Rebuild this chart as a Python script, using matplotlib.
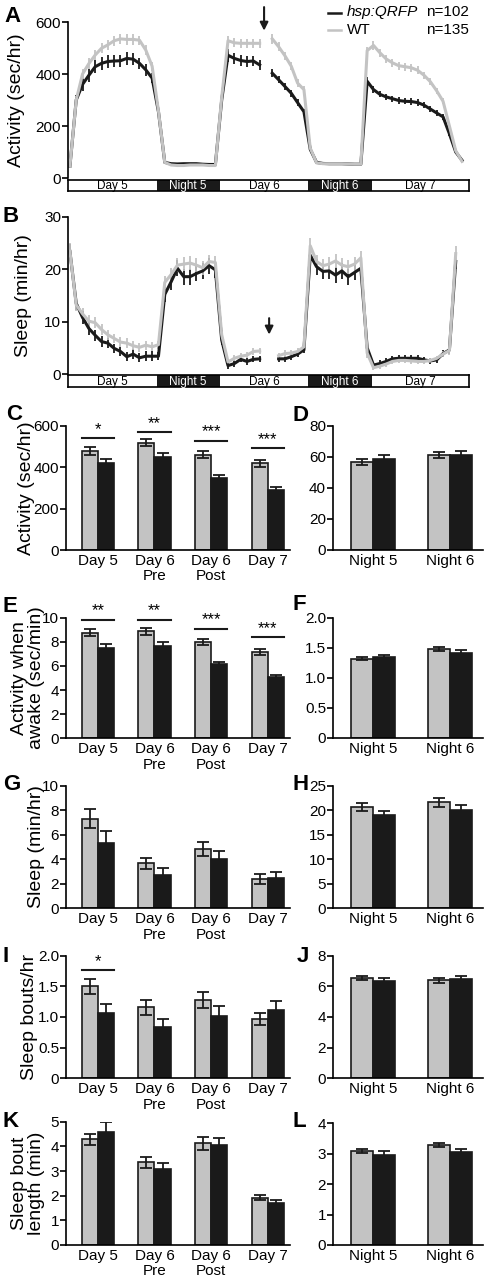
import numpy as np
import matplotlib
matplotlib.use("Agg")
import matplotlib.pyplot as plt
from matplotlib.lines import Line2D

plt.rcParams['font.family'] = ['Liberation Sans', 'DejaVu Sans']
plt.rcParams['axes.linewidth'] = 1.2

W, H = 488, 1280
BLACK = '#1a1a1a'
GREY = '#c3c3c3'

# region data: hourly time course (A, B)
hours = np.arange(63) + 0.3
phase_edges = [0, 14, 24, 38, 48, 63.4]
phase_names = ['Day 5', 'Night 5', 'Day 6', 'Night 6', 'Day 7']
phase_dark = [False, True, False, True, False]
nan = np.nan

act_qrfp = np.array([
    45, 300, 360, 395, 428, 441, 448, 450, 451, 460, 457, 441, 416, 384, 255,
    60, 55, 54, 55, 55, 55, 53, 52, 52,
    300, 472, 460, 452, 448, 450, 435, nan, 403, 378, 352, 326, 290, 255,
    110, 60, 56, 55, 55, 55, 54, 53, 53,
    372, 340, 322, 312, 305, 298, 295, 294, 290, 280, 265, 250, 235, 170, 100, 68])
act_wt = np.array([
    45, 300, 400, 440, 473, 499, 512, 528, 535, 533, 533, 530, 492, 430, 258,
    60, 50, 48, 48, 50, 50, 50, 48, 48,
    310, 528, 520, 518, 518, 518, 518, nan, 535, 505, 470, 430, 365, 340,
    115, 58, 55, 55, 55, 55, 54, 53, 53,
    490, 510, 482, 458, 443, 432, 428, 424, 414, 395, 370, 335, 295, 200, 105, 64])
act_qrfp_sem = np.array([
    5, 20, 24, 25, 25, 24, 24, 24, 24, 24, 22, 22, 22, 20, 10,
    4, 3, 3, 3, 3, 3, 3, 3, 3,
    12, 25, 22, 22, 22, 20, 20, nan, 15, 14, 14, 14, 12, 12,
    6, 3, 3, 3, 3, 3, 3, 3, 3,
    15, 14, 12, 12, 12, 12, 12, 12, 12, 12, 12, 12, 10, 8, 5, 3])
act_wt_sem = np.array([
    5, 15, 18, 20, 20, 20, 20, 20, 20, 20, 20, 18, 18, 18, 10,
    4, 3, 3, 3, 3, 3, 3, 3, 3,
    12, 20, 18, 18, 18, 18, 18, nan, 20, 18, 16, 15, 14, 12,
    6, 3, 3, 3, 3, 3, 3, 3, 3,
    15, 16, 16, 15, 15, 15, 15, 15, 15, 14, 14, 12, 12, 8, 5, 3])

sleep_qrfp = np.array([
    23.4, 13.5, 10.8, 8.7, 7.4, 6.2, 5.9, 4.9, 4.3, 3.3, 3.8, 3.1, 3.4, 3.4, 3.4,
    15.2, 17.6, 20.2, 18.6, 18.6, 19.2, 19.7, 20.7, 19.9,
    6.5, 1.6, 2.0, 2.8, 2.4, 2.8, 2.9, nan, nan, 2.9, 2.9, 3.3, 3.8, 4.6,
    22.7, 20.5, 19.6, 19.7, 18.9, 19.7, 18.6, 19.4, 20.2,
    5.0, 1.7, 2.0, 2.4, 2.9, 3.0, 3.0, 3.0, 3.0, 2.7, 2.5, 2.7, 3.9, 4.6, 21.5, nan])
sleep_wt = np.array([
    23.5, 13.2, 11.5, 10.1, 9.8, 8.5, 7.5, 6.8, 6.1, 5.9, 5.4, 5.1, 5.5, 5.2, 5.6,
    17.5, 19.0, 20.8, 21.0, 21.2, 20.8, 20.3, 21.5, 21.3,
    7.5, 2.3, 3.0, 3.4, 3.6, 4.3, 4.4, nan, nan, 3.5, 3.9, 4.0, 4.3, 5.2,
    24.5, 21.5, 20.7, 21.0, 21.6, 20.8, 20.5, 21.0, 22.2,
    4.0, 1.2, 1.5, 1.9, 2.4, 2.6, 2.6, 2.5, 2.4, 2.4, 2.6, 3.0, 3.8, 4.5, 23.0, nan])
sleep_qrfp_sem = np.array([
    1.5, 1.2, 1.3, 1.2, 1.1, 1.0, 1.0, 0.9, 0.9, 0.9, 0.9, 0.9, 0.9, 0.9, 0.8,
    1.5, 1.5, 1.5, 1.5, 1.5, 1.5, 1.5, 1.5, 1.5,
    1.0, 0.6, 0.6, 0.6, 0.6, 0.6, 0.6, nan, nan, 0.6, 0.6, 0.6, 0.6, 0.6,
    1.5, 1.5, 1.5, 1.5, 1.5, 1.5, 1.5, 1.5, 1.5,
    1.0, 0.6, 0.6, 0.6, 0.6, 0.6, 0.6, 0.6, 0.6, 0.6, 0.6, 0.6, 0.6, 0.8, 1.5, nan])
sleep_wt_sem = np.array([
    1.5, 1.2, 1.2, 1.1, 1.1, 1.0, 1.0, 0.9, 0.9, 0.9, 0.9, 0.9, 0.9, 0.9, 0.8,
    1.3, 1.3, 1.3, 1.3, 1.3, 1.3, 1.3, 1.3, 1.3,
    1.0, 0.6, 0.6, 0.6, 0.6, 0.6, 0.6, nan, nan, 0.6, 0.6, 0.6, 0.6, 0.6,
    1.5, 1.3, 1.3, 1.3, 1.3, 1.3, 1.3, 1.3, 1.3,
    1.0, 0.5, 0.5, 0.5, 0.5, 0.5, 0.5, 0.5, 0.5, 0.5, 0.5, 0.5, 0.6, 0.8, 1.5, nan])
# endregion

# region data: bar panels (C - L)
day_cats = ['Day 5', 'Day 6\nPre', 'Day 6\nPost', 'Day 7']
night_cats = ['Night 5', 'Night 6']

act_day_wt = [478, 518, 459, 418]
act_day_wt_sem = [18, 16, 17, 15]
act_day_qrfp = [422, 448, 347, 292]
act_day_qrfp_sem = [17, 19, 14, 12]
act_day_sig = ['*', '**', '***', '***']
act_day_sig_y = [541, 570, 527, 490]

act_night_wt = [56.5, 61.0]
act_night_wt_sem = [2.2, 2.0]
act_night_qrfp = [58.5, 61.0]
act_night_qrfp_sem = [2.5, 2.6]

awake_day_wt = [8.75, 8.87, 8.02, 7.15]
awake_day_wt_sem = [0.30, 0.30, 0.25, 0.28]
awake_day_qrfp = [7.48, 7.67, 6.12, 5.08]
awake_day_qrfp_sem = [0.30, 0.33, 0.22, 0.20]
awake_day_sig = ['**', '**', '***', '***']
awake_day_sig_y = [9.85, 9.85, 9.1, 8.4]

awake_night_wt = [1.32, 1.48]
awake_night_wt_sem = [0.03, 0.03]
awake_night_qrfp = [1.34, 1.42]
awake_night_qrfp_sem = [0.04, 0.04]

sleep_day_wt = [7.29, 3.67, 4.84, 2.39]
sleep_day_wt_sem = [0.78, 0.43, 0.55, 0.42]
sleep_day_qrfp = [5.35, 2.75, 4.03, 2.44]
sleep_day_qrfp_sem = [0.92, 0.50, 0.65, 0.50]

sleep_night_wt = [20.6, 21.6]
sleep_night_wt_sem = [0.85, 0.85]
sleep_night_qrfp = [19.0, 20.0]
sleep_night_qrfp_sem = [0.80, 1.00]

bouts_day_wt = [1.50, 1.16, 1.27, 0.97]
bouts_day_wt_sem = [0.12, 0.12, 0.13, 0.10]
bouts_day_qrfp = [1.06, 0.84, 1.02, 1.11]
bouts_day_qrfp_sem = [0.15, 0.12, 0.16, 0.15]
bouts_day_sig = ['*', None, None, None]
bouts_day_sig_y = [1.76, None, None, None]

bouts_night_wt = [6.55, 6.40]
bouts_night_wt_sem = [0.15, 0.15]
bouts_night_qrfp = [6.34, 6.45]
bouts_night_qrfp_sem = [0.22, 0.24]

boutlen_day_wt = [4.28, 3.35, 4.12, 1.92]
boutlen_day_wt_sem = [0.24, 0.21, 0.27, 0.10]
boutlen_day_qrfp = [4.59, 3.10, 4.05, 1.70]
boutlen_day_qrfp_sem = [0.40, 0.23, 0.30, 0.12]

boutlen_night_wt = [3.08, 3.28]
boutlen_night_wt_sem = [0.07, 0.07]
boutlen_night_qrfp = [2.96, 3.05]
boutlen_night_qrfp_sem = [0.12, 0.09]
# endregion

fig = plt.figure(figsize=(W / 100, H / 100), dpi=100)


def px_axes(x0, y0, x1, y1):
    return fig.add_axes([x0 / W, 1 - y1 / H, (x1 - x0) / W, (y1 - y0) / H])


def letter(x, y, s):
    fig.text(x / W, 1 - y / H, s, fontsize=16, fontweight='bold',
             ha='left', va='baseline')


def style_axes(ax):
    for s in ['top', 'right']:
        ax.spines[s].set_visible(False)
    ax.tick_params(axis='y', length=4, width=1.2, labelsize=11, pad=1)


def timeline(x0, x1, y0, y1):
    tb = px_axes(x0, y0, x1, y1)
    tb.set_xlim(phase_edges[0], phase_edges[-1])
    tb.set_ylim(0, 1)
    for i in range(len(phase_names)):
        a, b = phase_edges[i], phase_edges[i + 1]
        tb.axvspan(a, b, color=BLACK if phase_dark[i] else 'white', lw=0)
        tb.text((a + b) / 2, 0.45, phase_names[i], ha='center', va='center',
                fontsize=8.5, color='white' if phase_dark[i] else 'black')
    tb.set_xticks([])
    tb.set_yticks([])
    for s in tb.spines.values():
        s.set_linewidth(1.2)


def line_panel(box, qrfp, qrfp_sem, wt, wt_sem, ylim, yticks, ylabel, lab_x):
    ax = px_axes(*box)
    ax.errorbar(hours, qrfp, yerr=qrfp_sem, color=BLACK, lw=2.2,
                elinewidth=1.3, capsize=0)
    ax.errorbar(hours, wt, yerr=wt_sem, color=GREY, lw=2.2,
                elinewidth=1.3, capsize=0)
    ax.set_xlim(phase_edges[0], phase_edges[-1])
    ax.set_ylim(*ylim)
    ax.set_yticks(yticks)
    style_axes(ax)
    ax.spines['bottom'].set_visible(False)
    ax.set_xticks([])
    ax.set_ylabel(ylabel, fontsize=14)
    ax.yaxis.set_label_coords(lab_x, 0.5)
    return ax


def bar_panel(box, cats, wt, wt_sem, qrfp, qrfp_sem, ylim, yticks, yticklabels,
              xlim, ylabel=None, lab_x=None, sig=None, sig_y=None):
    ax = px_axes(*box)
    x = np.arange(len(cats))
    w = 0.285
    ax.bar(x - w / 2, wt, w, color=GREY, edgecolor=BLACK, lw=1.2, zorder=2)
    ax.bar(x + w / 2, qrfp, w, color=BLACK, edgecolor=BLACK, lw=1.2, zorder=2)
    ax.errorbar(x - w / 2, wt, yerr=wt_sem, fmt='none', ecolor=BLACK,
                elinewidth=1.3, capsize=4.5, capthick=1.3, zorder=3)
    ax.errorbar(x + w / 2, qrfp, yerr=qrfp_sem, fmt='none', ecolor=BLACK,
                elinewidth=1.3, capsize=4.5, capthick=1.3, zorder=1)
    if sig is not None:
        for xi, s, sy in zip(x, sig, sig_y):
            if s is None:
                continue
            ax.plot([xi - w, xi + w], [sy, sy], color=BLACK,
                    lw=1.5, clip_on=False)
            ax.text(xi, sy + (ylim[1] - ylim[0]) * 0.01, s, ha='center',
                    va='bottom', fontsize=12)
    ax.set_xlim(*xlim)
    ax.set_ylim(*ylim)
    ax.set_yticks(yticks)
    ax.set_yticklabels(yticklabels)
    ax.set_xticks(x)
    ax.set_xticklabels(cats, fontsize=11, linespacing=1.1)
    ax.tick_params(axis='x', length=0, pad=3)
    style_axes(ax)
    if ylabel:
        ax.set_ylabel(ylabel, fontsize=14, linespacing=1.0)
        ax.yaxis.set_label_coords(lab_x, 0.5)
    return ax


# A: activity time course
axA = line_panel((68, 22, 469, 178), act_qrfp, act_qrfp_sem, act_wt, act_wt_sem,
                 (0, 600), [0, 200, 400, 600], 'Activity (sec/hr)', -0.107)
axA.annotate('', xy=(31.0, 556), xytext=(31.0, 668),
             arrowprops=dict(arrowstyle='-|>', color=BLACK, lw=1.5,
                             mutation_scale=12),
             annotation_clip=False)
timeline(68, 469, 180, 191)

# legend
fig.add_artist(Line2D([328 / W, 341 / W], [1 - 13 / H, 1 - 13 / H], color=BLACK, lw=1.8))
fig.add_artist(Line2D([328 / W, 341 / W], [1 - 30 / H, 1 - 30 / H], color=GREY, lw=1.8))
fig.text(347 / W, 1 - 12 / H, 'hsp:QRFP', fontsize=11, style='italic', va='center')
fig.text(347 / W, 1 - 30 / H, 'WT', fontsize=11, va='center')
fig.text(426 / W, 1 - 12 / H, 'n=102', fontsize=11, va='center')
fig.text(426 / W, 1 - 30 / H, 'n=135', fontsize=11, va='center')

# B: sleep time course
axB = line_panel((68, 217, 469, 374), sleep_qrfp, sleep_qrfp_sem, sleep_wt, sleep_wt_sem,
                 (0, 30), [0, 10, 20, 30], 'Sleep (min/hr)', -0.09)
axB.annotate('', xy=(31.8, 7.0), xytext=(31.8, 11.2),
             arrowprops=dict(arrowstyle='-|>', color=BLACK, lw=1.5,
                             mutation_scale=12))
timeline(68, 469, 375, 387)

left_xlim = (-0.56, 3.39)
right_xlim = (-0.52, 1.43)
LX0, LX1 = 66, 290
RX0, RX1 = 333, 483

bar_panel((LX0, 425.7, LX1, 550), day_cats, act_day_wt, act_day_wt_sem,
          act_day_qrfp, act_day_qrfp_sem, (0, 600), [0, 200, 400, 600],
          ['0', '200', '400', '600'], left_xlim, 'Activity (sec/hr)', -0.14,
          act_day_sig, act_day_sig_y)
bar_panel((RX0, 425.7, RX1, 549.5), night_cats, act_night_wt, act_night_wt_sem,
          act_night_qrfp, act_night_qrfp_sem, (0, 80), [0, 20, 40, 60, 80],
          ['0', '20', '40', '60', '80'], right_xlim)

bar_panel((LX0, 617.7, LX1, 738.3), day_cats, awake_day_wt, awake_day_wt_sem,
          awake_day_qrfp, awake_day_qrfp_sem, (0, 10), [0, 2, 4, 6, 8, 10],
          ['0', '2', '4', '6', '8', '10'], left_xlim,
          'Activity when\nawake (sec/min)', -0.095, awake_day_sig, awake_day_sig_y)
bar_panel((RX0, 617.7, RX1, 737.7), night_cats, awake_night_wt, awake_night_wt_sem,
          awake_night_qrfp, awake_night_qrfp_sem, (0, 2.0), [0, 0.5, 1.0, 1.5, 2.0],
          ['0', '0.5', '1.0', '1.5', '2.0'], right_xlim)

bar_panel((LX0, 785.7, LX1, 908.3), day_cats, sleep_day_wt, sleep_day_wt_sem,
          sleep_day_qrfp, sleep_day_qrfp_sem, (0, 10), [0, 2, 4, 6, 8, 10],
          ['0', '2', '4', '6', '8', '10'], left_xlim, 'Sleep (min/hr)', -0.095)
bar_panel((RX0, 785.7, RX1, 908.3), night_cats, sleep_night_wt, sleep_night_wt_sem,
          sleep_night_qrfp, sleep_night_qrfp_sem, (0, 25), [0, 5, 10, 15, 20, 25],
          ['0', '5', '10', '15', '20', '25'], right_xlim)

bar_panel((LX0, 955.7, LX1, 1078.3), day_cats, bouts_day_wt, bouts_day_wt_sem,
          bouts_day_qrfp, bouts_day_qrfp_sem, (0, 2.0), [0, 0.5, 1.0, 1.5, 2.0],
          ['0', '0.5', '1.0', '1.5', '2.0'], left_xlim, 'Sleep bouts/hr', -0.125,
          bouts_day_sig, bouts_day_sig_y)
bar_panel((RX0, 955.7, RX1, 1078.3), night_cats, bouts_night_wt, bouts_night_wt_sem,
          bouts_night_qrfp, bouts_night_qrfp_sem, (0, 8), [0, 2, 4, 6, 8],
          ['0', '2', '4', '6', '8'], right_xlim)

bar_panel((LX0, 1121.7, LX1, 1245), day_cats, boutlen_day_wt, boutlen_day_wt_sem,
          boutlen_day_qrfp, boutlen_day_qrfp_sem, (0, 5), [0, 1, 2, 3, 4, 5],
          ['0', '1', '2', '3', '4', '5'], left_xlim, 'Sleep bout\nlength (min)', -0.095)
bar_panel((RX0, 1123.3, RX1, 1245), night_cats, boutlen_night_wt, boutlen_night_wt_sem,
          boutlen_night_qrfp, boutlen_night_qrfp_sem, (0, 4), [0, 1, 2, 3, 4],
          ['0', '1', '2', '3', '4'], right_xlim)

# panel letters
for lx, ly, s in [(4, 22, 'A'), (3, 222, 'B'), (6, 420, 'C'), (293, 421, 'D'),
                  (3, 612, 'E'), (293, 610, 'F'), (3, 790, 'G'), (293, 790, 'H'),
                  (3, 962, 'I'), (297, 962, 'J'), (3, 1127, 'K'), (293, 1127, 'L')]:
    letter(lx, ly, s)

fig.savefig('out.png', dpi=100)
